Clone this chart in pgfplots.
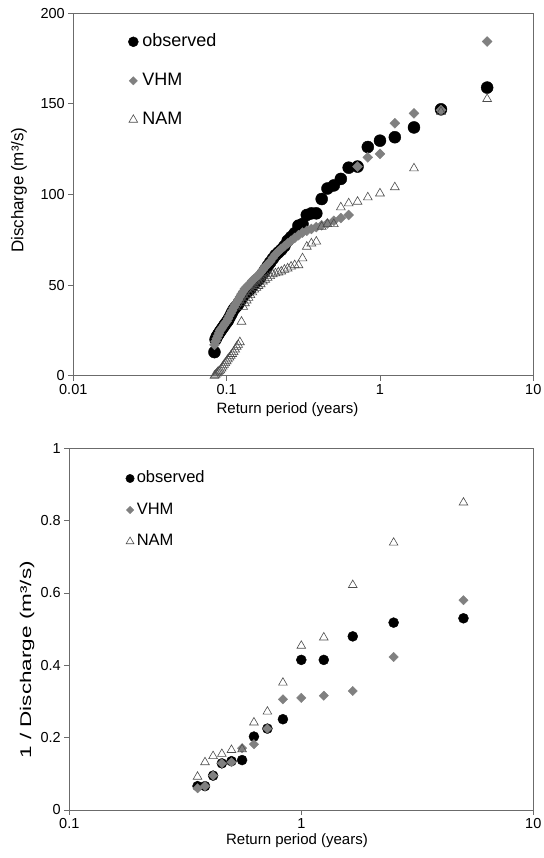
\documentclass[border=0pt]{standalone}
\usepackage{fontspec}
\setmainfont{Liberation Sans}
\usepackage{graphicx}
\usepackage{pgfplots}
\usepackage{pgfplotstable}
\pgfplotsset{compat=1.18}

\definecolor{axisgray}{gray}{0.42}
\definecolor{vhmgray}{gray}{0.5}
\definecolor{namedge}{gray}{0.3}

\pgfplotstableread{
T obs vhm nam
5 159 184.4 152.7
2.5 147 146.6 145.7
1.6667 137 144.8 114.4
1.25 131.6 139.3 104
1 129.7 122.4 100.6
0.8333 126.2 120.5 98.4
0.7143 115.4 115.4 96
0.625 114.8 88.7 95.1
0.5556 108.6 87 92.9
0.5 105 85.5 83.7
0.4545 103.3 84 83.7
0.4167 97.5 83 82.2
0.3846 89.6 82 74
0.3571 89.6 81 73
0.3333 88.7 80 71.2
0.3125 83.7 79 64.8
0.2941 82.8 77.5 61
0.2778 78.6 76 61
0.2632 76.5 74.5 60.2
0.25 74.5 73 59.2
0.2381 71.5 71.5 58.5
0.2273 69.5 70 57.5
0.2174 68 68.5 57
0.2083 66.5 67 56.5
0.2 64.5 65 56
0.1923 62.5 63 55
0.1852 60.5 61.5 54
0.1786 58.5 60 53
0.1724 56.5 58.5 52
0.1667 54.6 57 50.5
0.1613 53 55.5 49.5
0.1563 52 54.5 48.5
0.1515 51 53.5 47.5
0.1471 49.5 52.5 46
0.1429 48 51 44.5
0.1389 47 50 43
0.1351 46 49 41.5
0.1316 45 48 40
0.1282 44 46.5 38
0.125 42.5 45 29.8
0.122 41 43.5 18.5
0.119 39.5 42 17
0.1163 38.5 40.5 16
0.1136 37.5 39 14.5
0.1111 36.5 37.5 13
0.1087 35 36 12
0.1064 33.5 34.5 11
0.1042 32 33 10
0.102 30.5 31.5 9
0.1 29.5 30 8
0.098 28.5 29 7
0.0962 27.5 28 6
0.0943 26.5 27 5
0.0926 25.5 26 4
0.0909 24.5 25 3
0.0893 23.5 23.5 2.5
0.0877 22.5 22 2
0.0862 21.5 20.5 1.2
0.0847 20 19 0.5
0.0833 13 17 0
}\topdata

\pgfplotstableread{
T obs vhm nam
5 0.530 0.580 0.850
2.5 0.518 0.423 0.739
1.6667 0.480 0.329 0.622
1.25 0.415 0.316 0.477
1 0.415 0.310 0.454
0.8333 0.251 0.306 0.352
0.7143 0.225 0.225 0.272
0.625 0.203 0.182 0.242
0.5556 0.138 0.171 0.168
0.5 0.135 0.132 0.166
0.4545 0.129 0.129 0.155
0.4167 0.095 0.095 0.149
0.3846 0.066 0.066 0.132
0.3571 0.066 0.060 0.092
}\botdata

\begin{document}
\begin{tikzpicture}
\path[use as bounding box] (0pt,0pt) rectangle (543pt,858pt);
% ---------- top ----------
\begin{axis}[
  scale only axis,
  xmode=log,
  axis line style={axisgray, line width=0.8pt},
  tick style={axisgray, line width=0.8pt},
  tick align=outside,
  xtick pos=bottom, ytick pos=left,
  major tick length=5pt,
  xminorticks=false,
  /pgf/number format/assume math mode=true,
  ticklabel style={font=\fontsize{14.5}{16}\selectfont, text=black},
  clip=false,
  legend cell align=left,
  legend image code/.code={\draw[#1] plot coordinates {(0pt,0pt)};},
  at={(73.3pt,482.3pt)}, anchor=south west,
  width=460pt, height=362.4pt,
  xmin=0.01, xmax=10, ymin=0, ymax=200,
  xtick={0.01,0.1,1,10}, xticklabels={0.01,0.1,1,10},
  ytick={0,50,100,150,200}, yticklabels={0,50,100,150,200},
  xlabel={Return period (years)},
  ylabel={Discharge (m³/s)},
  xlabel style={at={(axis description cs:0.4657,-0.094)}, anchor=center, font=\fontsize{15}{17}\selectfont},
  ylabel style={at={(axis description cs:-0.118,0.512)}, anchor=center, font=\fontsize{17}{19}\selectfont},
  legend style={draw=none, fill=none, at={(axis description cs:0.1127,0.9495)}, anchor=north west,
    font=\fontsize{18}{20}\selectfont, row sep=23pt,
    nodes={inner sep=0pt, text height=12.5pt, text depth=3.5pt}},
]
\addplot[only marks, mark=*, mark size=6pt, black, forget plot] table[x=T, y=obs] {\topdata};
\addplot[only marks, mark=square*, mark size=3.5pt, mark options={rotate=45, fill=vhmgray, draw=vhmgray}, forget plot] table[x=T, y=vhm] {\topdata};
\addplot[only marks, mark=triangle, mark size=5.1pt, mark options={draw=namedge, line width=0.6pt, fill=none}, forget plot] table[x=T, y=nam] {\topdata};
\addlegendimage{only marks, mark=*, mark size=5pt, black}
\addlegendentry{\hspace{4pt}observed}
\addlegendimage{only marks, mark=square*, mark size=2.9pt, mark options={rotate=45, fill=vhmgray, draw=vhmgray}}
\addlegendentry{\hspace{4pt}VHM}
\addlegendimage{only marks, mark=triangle, mark size=5pt, mark options={draw=namedge, line width=0.6pt, fill=none}}
\addlegendentry{\hspace{4pt}NAM}
\end{axis}
% ---------- bottom ----------
\begin{axis}[
  scale only axis,
  xmode=log,
  axis line style={axisgray, line width=0.8pt},
  tick style={axisgray, line width=0.8pt},
  tick align=outside,
  xtick pos=bottom, ytick pos=left,
  major tick length=5pt,
  xminorticks=false,
  /pgf/number format/assume math mode=true,
  ticklabel style={font=\fontsize{14.5}{16}\selectfont, text=black},
  clip=false,
  legend cell align=left,
  legend image code/.code={\draw[#1] plot coordinates {(0pt,0pt)};},
  at={(69.3pt,48pt)}, anchor=south west,
  width=464pt, height=361.7pt,
  xmin=0.1, xmax=10, ymin=0, ymax=1,
  xtick={0.1,1,10}, xticklabels={0.1,1,10},
  ytick={0,0.2,0.4,0.6,0.8,1}, yticklabels={0,0.2,0.4,0.6,0.8,1},
  xlabel={Return period (years)},
  ylabel={\scalebox{1.45}[1]{1 / Discharge (m³/s)}},
  xlabel style={at={(axis description cs:0.4907,-0.085)}, anchor=center, font=\fontsize{15}{17}\selectfont},
  ylabel style={at={(axis description cs:-0.091,0.415)}, anchor=center, font=\fontsize{15.5}{17}\selectfont},
  legend style={draw=none, fill=none, at={(axis description cs:0.115,0.944)}, anchor=north west,
    font=\fontsize{16.5}{18}\selectfont, row sep=16pt,
    nodes={inner sep=0pt, text height=12pt, text depth=3.5pt}},
]
\addplot[only marks, mark=*, mark size=5pt, black, forget plot] table[x=T, y=obs] {\botdata};
\addplot[only marks, mark=square*, mark size=3.3pt, mark options={rotate=45, fill=vhmgray, draw=vhmgray}, forget plot] table[x=T, y=vhm] {\botdata};
\addplot[only marks, mark=triangle, mark size=5pt, mark options={draw=namedge, line width=0.6pt, fill=none}, forget plot] table[x=T, y=nam] {\botdata};
\addlegendimage{only marks, mark=*, mark size=4.2pt, black}
\addlegendentry{\hspace{2.5pt}observed}
\addlegendimage{only marks, mark=square*, mark size=2.6pt, mark options={rotate=45, fill=vhmgray, draw=vhmgray}}
\addlegendentry{\hspace{2.5pt}VHM}
\addlegendimage{only marks, mark=triangle, mark size=4.5pt, mark options={draw=namedge, line width=0.6pt, fill=none}}
\addlegendentry{\hspace{2.5pt}NAM}
\end{axis}
\end{tikzpicture}
\end{document}
